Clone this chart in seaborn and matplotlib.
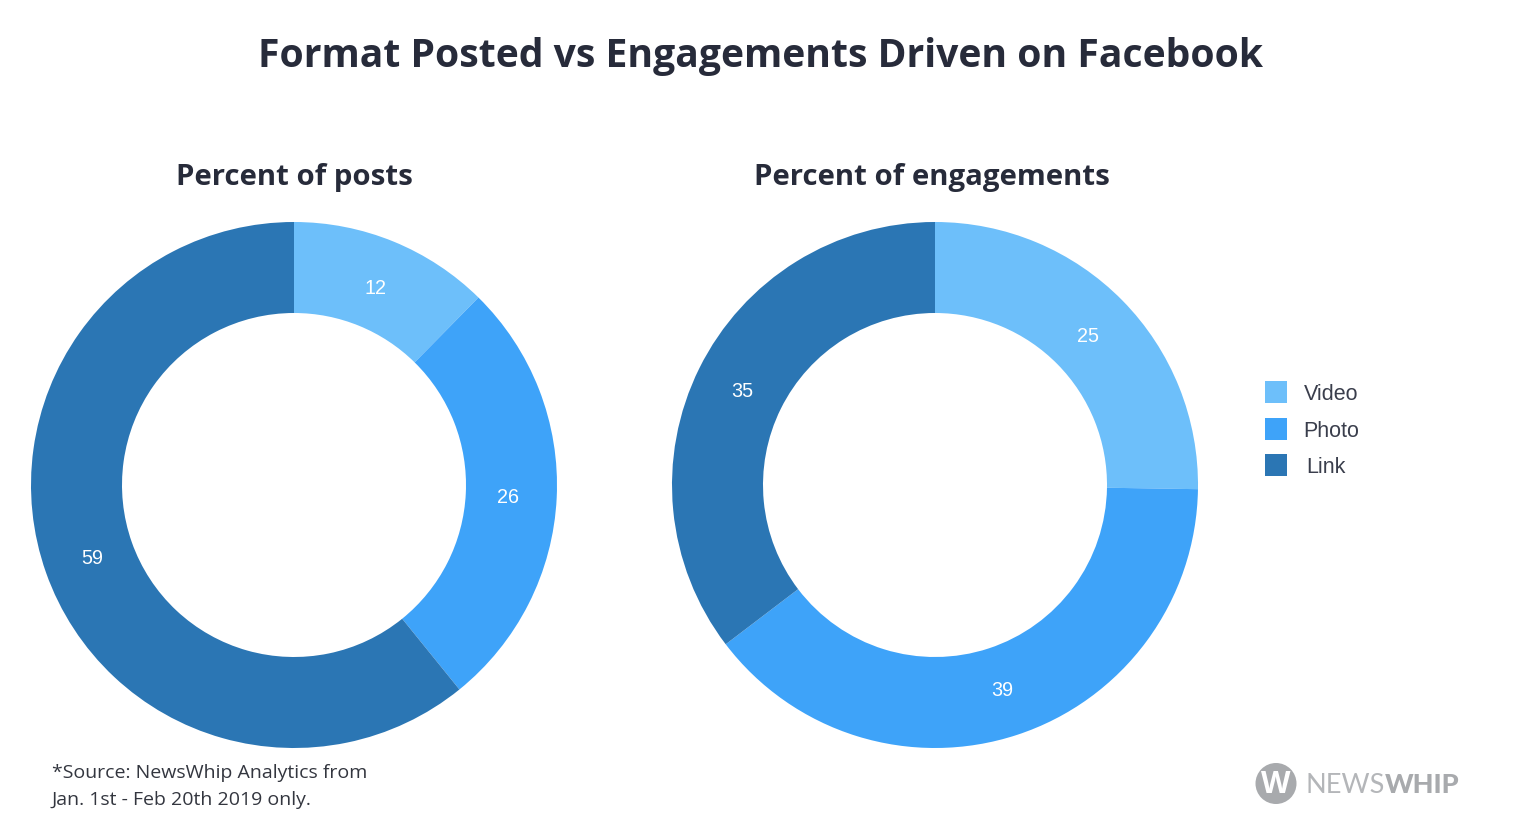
import matplotlib
matplotlib.use('Agg')
import matplotlib.pyplot as plt
from matplotlib.patches import Rectangle, Circle
import seaborn as sns

categories = ['Video', 'Photo', 'Link']
posts = [12, 26, 59]
engagements = [25, 39, 35]
colors = ['#6dbffa', '#3ea3f9', '#2b76b4']

W, H = 1524, 838
DARK = '#272b3a'
GREY = '#a8aaad'

sns.set_theme(style='white')
plt.rcParams['font.family'] = ['Liberation Sans', 'DejaVu Sans']
pal = sns.color_palette(colors)


def px_x(x):
    return x / W


def px_y(y):
    return 1 - y / H


def donut(fig, cx, cy, r, values, title, title_x):
    ax = fig.add_axes([px_x(cx - r), px_y(cy + r), 2 * r / W, 2 * r / H])
    total = sum(values)
    wedges, _, autotexts = ax.pie(values, colors=pal, startangle=90, counterclock=False,
                                  radius=1, wedgeprops={'width': 91 / 263, 'linewidth': 0},
                                  autopct=lambda p: '%d' % round(p * total / 100),
                                  pctdistance=0.816,
                                  textprops={'color': 'white', 'fontsize': 14.2})
    # labels sit a little below the ring centre line
    for t in autotexts:
        x, y = t.get_position()
        t.set_position((x, y - 2 / r))
    ax.set_xlim(-1, 1)
    ax.set_ylim(-1, 1)
    fig.text(px_x(title_x), px_y(178), title, ha='center', va='center', color=DARK,
             fontsize=21.2, fontweight='bold', family='Open Sans')
    return ax


fig = plt.figure(figsize=(W / 100, H / 100), dpi=100)
fig.patch.set_facecolor('white')

fig.text(px_x(760.5), px_y(57), 'Format Posted vs Engagements Driven on Facebook', ha='center',
         va='center', color=DARK, fontsize=28.2, fontweight='bold', family='Open Sans')

donut(fig, 294, 485, 263, posts, 'Percent of posts', 294.5)
donut(fig, 935, 485, 263, engagements, 'Percent of engagements', 932)

# legend, label offsets are uneven in the original
for name, col, y, tx in zip(categories, pal, [392, 429, 465], [1304, 1303, 1306]):
    fig.add_artist(Rectangle((px_x(1265), px_y(y + 11)), 22 / W, 22 / H, color=col, lw=0,
                             transform=fig.transFigure))
    fig.text(px_x(tx), px_y(y + 2), name, ha='left', va='center', color='#3a3e4c', fontsize=15.5)

fig.text(px_x(52), px_y(773), '*Source: NewsWhip Analytics from', va='center', color='#33363f',
         fontsize=14, family='Open Sans')
fig.text(px_x(52), px_y(799.5), 'Jan. 1st - Feb 20th 2019 only.', va='center', color='#33363f',
         fontsize=14, family='Open Sans')

# logo
logo = fig.add_axes([0, 0, 1, 1], zorder=5)
logo.set_xlim(0, W)
logo.set_ylim(H, 0)
logo.axis('off')
logo.patch.set_alpha(0)
logo.add_patch(Circle((1276, 783.5), 20.5, color=GREY, lw=0))
logo.text(1276, 785, 'W', ha='center', va='center', color='white', fontsize=22, fontweight='bold',
          family='Open Sans')
logo.text(1306, 785, 'NEWS', ha='left', va='center', color='#b4b6b9', fontsize=19.5, family='Lato')
logo.text(1385, 785, 'WHIP', ha='left', va='center', color=GREY, fontsize=19.5, family='Lato',
          fontweight='black')

fig.savefig('out.png', dpi=100, facecolor='white')
